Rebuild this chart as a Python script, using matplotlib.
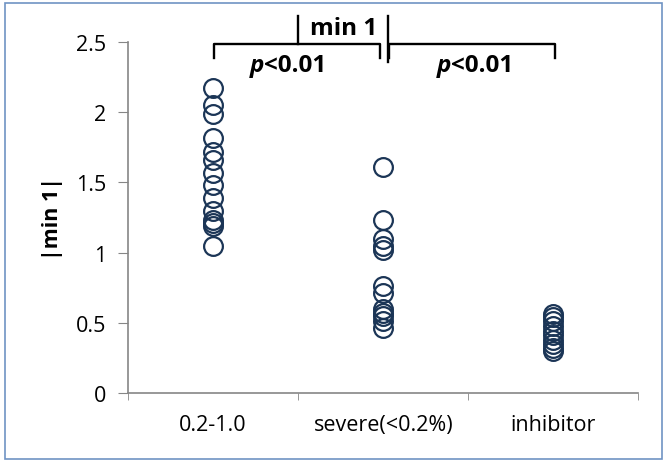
import matplotlib
matplotlib.use("Agg")
import matplotlib.pyplot as plt
from matplotlib.patches import Rectangle

plt.rcParams['font.family'] = ['Open Sans', 'DejaVu Sans']

categories = ['0.2-1.0', 'severe(<0.2%)', 'inhibitor']
mild = [2.17, 2.05, 1.99, 1.82, 1.72, 1.66, 1.57, 1.48, 1.39, 1.30, 1.23, 1.21, 1.19, 1.05]
severe = [1.61, 1.23, 1.10, 1.05, 1.02, 0.76, 0.71, 0.60, 0.57, 0.55, 0.51, 0.46]
inhibitor = [0.56, 0.54, 0.51, 0.48, 0.44, 0.41, 0.38, 0.35, 0.32, 0.30]
groups = [mild, severe, inhibitor]
yticks = [0, 0.5, 1, 1.5, 2, 2.5]
ylabels = ['0', '0.5', '1', '1.5', '2', '2.5']

axcol = '#868686'
dotcol = '#1b3556'
fs = 15.5

fig = plt.figure(figsize=(6.67, 4.64), dpi=100)
ax = fig.add_axes([0.192, 0.151, 0.765, 0.756])

for i, vals in enumerate(groups):
    ax.plot([i] * len(vals), vals, 'o', ms=13.5, mfc='none', mec=dotcol, mew=1.6, clip_on=False)

ax.set_xlim(-0.5, 2.5)
ax.set_ylim(0, 2.5)
ax.set_yticks(yticks)
ax.set_yticklabels(ylabels, fontsize=fs)
ax.set_xticks([0, 1, 2])
ax.set_xticklabels(categories, fontsize=fs)
ax.set_xticks([-0.5, 0.5, 1.5, 2.5], minor=True)
ax.tick_params(axis='x', which='major', length=0, pad=15)
ax.tick_params(axis='x', which='minor', length=5, color=axcol, direction='out')
ax.tick_params(axis='y', length=7, color=axcol, pad=9)
for s in ['top', 'right']:
    ax.spines[s].set_visible(False)
for s in ['left', 'bottom']:
    ax.spines[s].set_color(axcol)
    ax.spines[s].set_linewidth(1.2)

ax.set_ylabel('|min 1|', fontsize=fs, fontweight='bold', labelpad=9)

# significance brackets above the groups
def bracket(x0, x1, y, drop):
    ax.plot([x0, x0, x1, x1], [y - drop, y, y, y - drop], color='black', lw=1.7, clip_on=False)

def ptext(x, y):
    ax.text(x, y, 'p', fontsize=17.5, fontweight='bold', fontstyle='italic', ha='right', va='center')
    ax.text(x, y, '<0.01', fontsize=17.5, fontweight='bold', ha='left', va='center')

bracket(0.006, 0.982, 2.486, 0.1)
bracket(1.035, 2.01, 2.486, 0.1)
ax.plot([0.5, 0.5], [2.486, 2.685], color='black', lw=1.7, clip_on=False)
ax.plot([1.03, 1.03], [2.36, 2.685], color='black', lw=1.7, clip_on=False)
ax.text(0.765, 2.6, 'min 1', fontsize=17.5, fontweight='bold', ha='center', va='center')
ptext(0.30, 2.335)
ptext(1.40, 2.335)

fig.add_artist(Rectangle((0.008, 0.008), 0.984, 0.984, transform=fig.transFigure,
                         fill=False, edgecolor='#6f93c4', lw=1.2))

fig.savefig('out.png', dpi=100)
